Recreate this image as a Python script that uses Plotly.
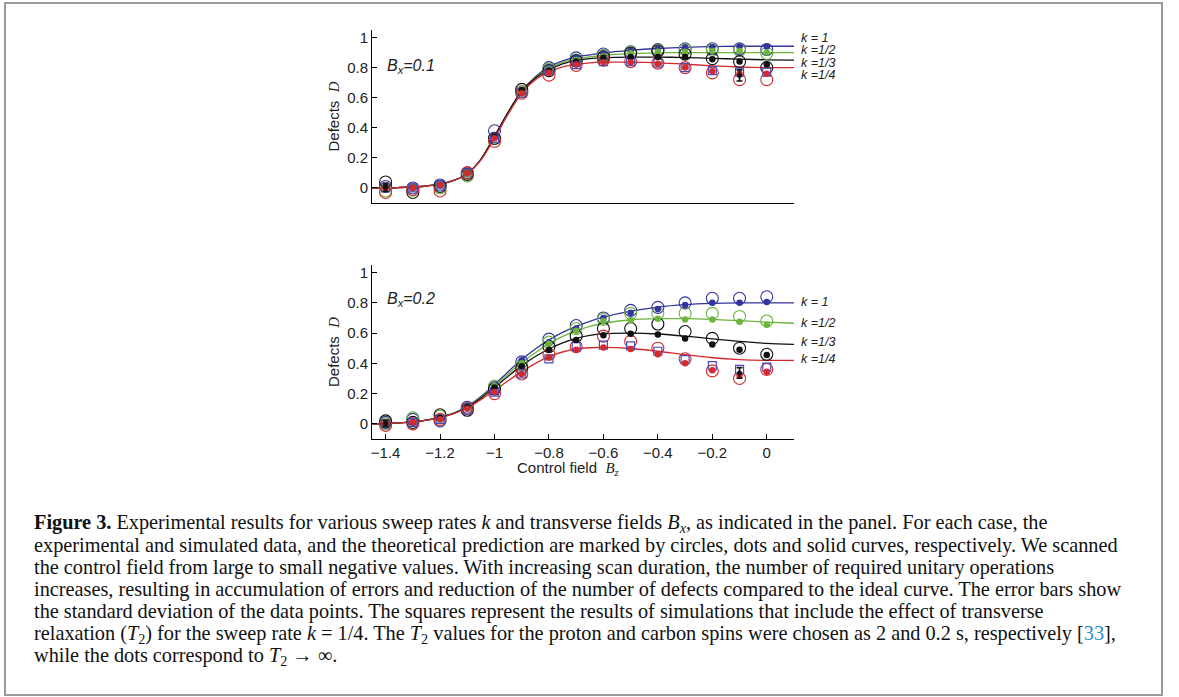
import plotly.graph_objects as go

W, H = 1179, 697

# ---------------- data ----------------
X_PTS = [-1.4, -1.3, -1.2, -1.1, -1.0, -0.9, -0.8, -0.7, -0.6, -0.5, -0.4, -0.3, -0.2, -0.1, 0.0]
CURVE_X = [-1.45, -1.4, -1.35, -1.3, -1.25, -1.2, -1.15, -1.1, -1.05, -1.0, -0.95, -0.9, -0.85,
           -0.8, -0.75, -0.7, -0.65, -0.6, -0.5, -0.4, -0.3, -0.2, -0.1, 0.0, 0.1]
K_LABELS = ["k = 1", "k =1/2", "k =1/3", "k =1/4"]
X_TICKS = [-1.4, -1.2, -1.0, -0.8, -0.6, -0.4, -0.2, 0.0]
X_TICK_TEXT = ["\u22121.4", "\u22121.2", "\u22121", "\u22120.8", "\u22120.6", "\u22120.4", "\u22120.2", "0"]
Y_TICKS = [0, 0.2, 0.4, 0.6, 0.8, 1.0]
Y_TICK_TEXT = ["0", "0.2", "0.4", "0.6", "0.8", "1"]

# --- panel Bx = 0.1 : theory curves
top_curve_k1 = [0.0, 0.0, 0.003, 0.007, 0.013, 0.025, 0.05, 0.095, 0.19, 0.34, 0.50, 0.64, 0.74,
                0.805, 0.845, 0.87, 0.885, 0.898, 0.915, 0.927, 0.935, 0.94, 0.942, 0.942, 0.942]
top_curve_k2 = [0.0, 0.0, 0.003, 0.007, 0.013, 0.025, 0.05, 0.095, 0.19, 0.34, 0.50, 0.64, 0.735,
                0.795, 0.835, 0.858, 0.872, 0.882, 0.893, 0.898, 0.90, 0.90, 0.90, 0.90, 0.90]
top_curve_k3 = [0.0, 0.0, 0.003, 0.007, 0.013, 0.025, 0.05, 0.095, 0.19, 0.345, 0.505, 0.645, 0.73,
                0.785, 0.825, 0.848, 0.86, 0.866, 0.87, 0.87, 0.867, 0.862, 0.856, 0.852, 0.85]
top_curve_k4 = [0.0, 0.0, 0.003, 0.007, 0.013, 0.025, 0.05, 0.095, 0.185, 0.33, 0.49, 0.63, 0.72,
                0.77, 0.805, 0.822, 0.832, 0.836, 0.836, 0.832, 0.823, 0.812, 0.804, 0.80, 0.80]
# --- panel Bx = 0.1 : experiment (circles)
top_exp_k1 = [0.01, 0.0, 0.02, 0.10, 0.38, 0.64, 0.80, 0.865, 0.89, 0.905, 0.92, 0.925, 0.925, 0.925, 0.92]
top_exp_k2 = [-0.02, -0.015, 0.0, 0.08, 0.33, 0.64, 0.79, 0.85, 0.88, 0.90, 0.915, 0.92, 0.915, 0.915, 0.895]
top_exp_k3 = [0.04, -0.03, 0.01, 0.09, 0.33, 0.655, 0.78, 0.845, 0.87, 0.895, 0.91, 0.89, 0.86, 0.84, 0.80]
top_exp_k4 = [-0.03, -0.01, -0.02, 0.10, 0.31, 0.63, 0.75, 0.815, 0.85, 0.84, 0.83, 0.80, 0.765, 0.72, 0.72]
# --- panel Bx = 0.1 : simulation (dots)
top_sim_k1 = [0.0, 0.0, 0.02, 0.10, 0.35, 0.65, 0.80, 0.865, 0.895, 0.91, 0.925, 0.935, 0.935, 0.94, 0.94]
top_sim_k2 = [0.0, 0.0, 0.02, 0.09, 0.34, 0.645, 0.79, 0.85, 0.875, 0.895, 0.905, 0.905, 0.91, 0.91, 0.90]
top_sim_k3 = [0.01, 0.0, 0.02, 0.10, 0.34, 0.65, 0.78, 0.84, 0.865, 0.87, 0.87, 0.87, 0.855, 0.84, 0.82]
top_sim_k4 = [0.0, 0.0, 0.02, 0.10, 0.33, 0.63, 0.765, 0.82, 0.835, 0.835, 0.825, 0.80, 0.775, 0.76, 0.76]
# --- panel Bx = 0.1 : T2 simulation k=1/4 (squares)
top_sq = [0.0, 0.0, 0.02, 0.10, 0.33, 0.63, 0.78, 0.82, 0.84, 0.84, 0.83, 0.80, 0.78, 0.77, 0.77]
top_err_x = [-1.4, -0.1]
top_err_y = [0.005, 0.748]
top_err_e = [0.028, 0.037]

# --- panel Bx = 0.2 : theory curves
bot_curve_k1 = [0.0, 0.002, 0.006, 0.013, 0.025, 0.043, 0.072, 0.115, 0.18, 0.26, 0.345, 0.425, 0.495,
                0.555, 0.605, 0.645, 0.678, 0.705, 0.745, 0.772, 0.788, 0.796, 0.80, 0.80, 0.80]
bot_curve_k2 = [0.0, 0.002, 0.006, 0.013, 0.025, 0.043, 0.071, 0.113, 0.175, 0.25, 0.33, 0.405, 0.47,
                0.53, 0.578, 0.615, 0.645, 0.665, 0.688, 0.695, 0.695, 0.69, 0.682, 0.672, 0.665]
bot_curve_k3 = [0.0, 0.002, 0.006, 0.013, 0.025, 0.043, 0.07, 0.11, 0.17, 0.24, 0.315, 0.385, 0.445,
                0.495, 0.535, 0.565, 0.585, 0.596, 0.60, 0.594, 0.58, 0.562, 0.545, 0.532, 0.525]
bot_curve_k4 = [0.0, 0.002, 0.006, 0.013, 0.025, 0.042, 0.068, 0.105, 0.16, 0.22, 0.285, 0.345, 0.40,
                0.445, 0.475, 0.495, 0.503, 0.505, 0.498, 0.48, 0.457, 0.437, 0.425, 0.42, 0.42]
# --- panel Bx = 0.2 : experiment (circles)
bot_exp_k1 = [0.01, 0.03, 0.02, 0.11, 0.24, 0.41, 0.56, 0.65, 0.70, 0.75, 0.77, 0.80, 0.83, 0.83, 0.84]
bot_exp_k2 = [0.0, 0.04, 0.05, 0.10, 0.25, 0.39, 0.54, 0.63, 0.69, 0.73, 0.73, 0.73, 0.73, 0.71, 0.68]
bot_exp_k3 = [0.02, 0.01, 0.06, 0.09, 0.23, 0.37, 0.51, 0.58, 0.63, 0.63, 0.66, 0.61, 0.565, 0.50, 0.46]
bot_exp_k4 = [-0.01, 0.0, 0.03, 0.10, 0.20, 0.33, 0.46, 0.51, 0.58, 0.545, 0.50, 0.43, 0.35, 0.30, 0.36]
# --- panel Bx = 0.2 : simulation (dots)
bot_sim_k1 = [0.0, 0.01, 0.04, 0.12, 0.25, 0.42, 0.54, 0.63, 0.70, 0.735, 0.76, 0.785, 0.80, 0.80, 0.805]
bot_sim_k2 = [0.0, 0.01, 0.04, 0.11, 0.25, 0.40, 0.53, 0.615, 0.68, 0.685, 0.695, 0.69, 0.69, 0.675, 0.655]
bot_sim_k3 = [0.0, 0.01, 0.04, 0.11, 0.24, 0.38, 0.49, 0.555, 0.585, 0.595, 0.59, 0.565, 0.525, 0.49, 0.455]
bot_sim_k4 = [0.0, 0.01, 0.03, 0.10, 0.21, 0.33, 0.44, 0.49, 0.505, 0.495, 0.46, 0.40, 0.355, 0.32, 0.345]
# --- panel Bx = 0.2 : T2 simulation k=1/4 (squares)
bot_sq = [0.0, 0.01, 0.03, 0.09, 0.21, 0.33, 0.43, 0.51, 0.52, 0.515, 0.48, 0.425, 0.385, 0.36, 0.375]
bot_err_x = [-1.4, -0.1]
bot_err_y = [0.002, 0.337]
bot_err_e = [0.02, 0.035]

CAPTION_LINES = [
    "<b>Figure 3.</b> Experimental results for various sweep rates <i>k</i> and transverse fields <i>B<sub>x</sub></i>, as indicated in the panel. For each case, the",
    "experimental and simulated data, and the theoretical prediction are marked by circles, dots and solid curves, respectively. We scanned",
    "the control field from large to small negative values. With increasing scan duration, the number of required unitary operations",
    "increases, resulting in accumulation of errors and reduction of the number of defects compared to the ideal curve. The error bars show",
    "the standard deviation of the data points. The squares represent the results of simulations that include the effect of transverse",
    "relaxation (<i>T</i><sub>2</sub>) for the sweep rate <i>k</i> = 1/4. The <i>T</i><sub>2</sub> values for the proton and carbon spins were chosen as 2 and 0.2 s, respectively [<span style='color:#2b8ccc'>33</span>],",
    "while the dots correspond to <i>T</i><sub>2</sub> \u2192 \u221e.",
]

# ---------------- styling ----------------
COLORS = ["#34349e", "#6cb43c", "#111111", "#d32a30"]
SQ_COLOR = "#4a4ab8"


def px(x):
    return x / W


def py(y):
    return 1 - y / H


fig = go.Figure()

panels = [
    ("x", "y", [top_curve_k1, top_curve_k2, top_curve_k3, top_curve_k4],
     [top_exp_k1, top_exp_k2, top_exp_k3, top_exp_k4],
     [top_sim_k1, top_sim_k2, top_sim_k3, top_sim_k4], top_sq, top_err_x, top_err_y, top_err_e),
    ("x2", "y2", [bot_curve_k1, bot_curve_k2, bot_curve_k3, bot_curve_k4],
     [bot_exp_k1, bot_exp_k2, bot_exp_k3, bot_exp_k4],
     [bot_sim_k1, bot_sim_k2, bot_sim_k3, bot_sim_k4], bot_sq, bot_err_x, bot_err_y, bot_err_e),
]

for xa, ya, curves, exps, sims, sq, ex, ey, ee in panels:
    for c, col in zip(curves, COLORS):
        fig.add_trace(go.Scatter(x=CURVE_X, y=c, mode="lines", xaxis=xa, yaxis=ya,
                                 line=dict(color=col, width=1.3, shape="spline", smoothing=0.8),
                                 showlegend=False, hoverinfo="skip"))
    for e, col in zip(exps, COLORS):
        fig.add_trace(go.Scatter(x=X_PTS, y=e, mode="markers", xaxis=xa, yaxis=ya,
                                 marker=dict(symbol="circle-open", size=12, color=col,
                                             line=dict(width=1.1, color=col)),
                                 showlegend=False))
    fig.add_trace(go.Scatter(x=X_PTS, y=sq, mode="markers", xaxis=xa, yaxis=ya,
                             marker=dict(symbol="square-open", size=8, color=SQ_COLOR,
                                         line=dict(width=1.2, color=SQ_COLOR)),
                             showlegend=False))
    for s, col in zip(sims, COLORS):
        fig.add_trace(go.Scatter(x=X_PTS, y=s, mode="markers", xaxis=xa, yaxis=ya,
                                 marker=dict(symbol="circle", size=6.5, color=col),
                                 showlegend=False))
    fig.add_trace(go.Scatter(x=ex, y=ey, mode="markers", xaxis=xa, yaxis=ya,
                             marker=dict(symbol="circle", size=5, color="#111111"),
                             error_y=dict(type="data", array=ee, color="#111111",
                                          thickness=1.6, width=3),
                             showlegend=False))

XL, XR = 372, 794
top_t, top_b = 30, 203
bot_t, bot_b = 265, 439

axis_common = dict(showline=True, linecolor="black", linewidth=1, showgrid=False,
                   zeroline=False, ticks="inside", ticklen=5, tickwidth=1, tickcolor="black",
                   tickfont=dict(family="Liberation Sans, Arial", size=15, color="#222"))

fig.update_layout(
    width=W, height=H, margin=dict(l=0, r=0, t=0, b=0),
    paper_bgcolor="white", plot_bgcolor="white", showlegend=False,
    xaxis=dict(domain=[px(XL), px(XR)], range=[-1.45, 0.1], anchor="y",
               showline=True, linecolor="black", linewidth=1, showgrid=False, zeroline=False,
               ticks="", showticklabels=False),
    yaxis=dict(domain=[py(top_b), py(top_t)], range=[-0.1, 1.05], anchor="x",
               tickvals=Y_TICKS, ticktext=Y_TICK_TEXT, **axis_common),
    xaxis2=dict(domain=[px(XL), px(XR)], range=[-1.45, 0.1], anchor="y2",
                tickvals=X_TICKS, ticktext=X_TICK_TEXT, **axis_common),
    yaxis2=dict(domain=[py(bot_b), py(bot_t)], range=[-0.1, 1.05], anchor="x2",
                tickvals=Y_TICKS, ticktext=Y_TICK_TEXT, **axis_common),
)

ann = []
sans = "Liberation Sans, Arial"
serif = "Liberation Serif, Times New Roman"
# y-axis titles
for yc in [(top_t + top_b) / 2, (bot_t + bot_b) / 2]:
    ann.append(dict(x=px(333), y=py(yc), xref="paper", yref="paper", showarrow=False,
                    textangle=-90, xanchor="center", yanchor="middle",
                    text="Defects  <span style='font-family:Liberation Serif;font-style:italic'>D</span>",
                    font=dict(family=sans, size=15, color="#222")))
# x-axis title
ann.append(dict(x=px(568), y=py(468), xref="paper", yref="paper", showarrow=False,
                xanchor="center", yanchor="middle",
                text="Control field  <span style='font-family:Liberation Serif;font-style:italic'>B<sub>z</sub></span>",
                font=dict(family=sans, size=15, color="#222")))
# Bx labels
ann.append(dict(x=px(385), y=py(66), xref="paper", yref="paper", showarrow=False,
                xanchor="left", yanchor="middle", text="<i>B<sub>x</sub>=0.1</i>",
                font=dict(family=sans, size=16, color="#222")))
ann.append(dict(x=px(385), y=py(299), xref="paper", yref="paper", showarrow=False,
                xanchor="left", yanchor="middle", text="<i>B<sub>x</sub>=0.2</i>",
                font=dict(family=sans, size=16, color="#222")))
# k labels
for lab, yy in zip(K_LABELS, [38, 50, 63, 75]):
    ann.append(dict(x=px(799), y=py(yy), xref="paper", yref="paper", showarrow=False,
                    xanchor="left", yanchor="middle", text="<i>" + lab + "</i>",
                    font=dict(family=sans, size=12.5, color="#222")))
for lab, yy in zip(K_LABELS, [302, 323, 342, 359]):
    ann.append(dict(x=px(799), y=py(yy), xref="paper", yref="paper", showarrow=False,
                    xanchor="left", yanchor="middle", text="<i>" + lab + "</i>",
                    font=dict(family=sans, size=12.5, color="#222")))
# caption
for i, line in enumerate(CAPTION_LINES):
    ann.append(dict(x=px(32), y=py(523 + i * 22.2), xref="paper", yref="paper", showarrow=False,
                    xanchor="left", yanchor="middle", text=line,
                    font=dict(family=serif, size=20.3, color="#111")))

fig.update_layout(annotations=ann)

fig.add_shape(type="rect", xref="paper", yref="paper",
              x0=px(5), x1=px(1162), y0=py(695), y1=py(3),
              line=dict(color="#9a9a9a", width=2), fillcolor="rgba(0,0,0,0)")

fig.write_html("out.html", config={"displayModeBar": False},
               post_script="document.body.style.margin='0px';")
